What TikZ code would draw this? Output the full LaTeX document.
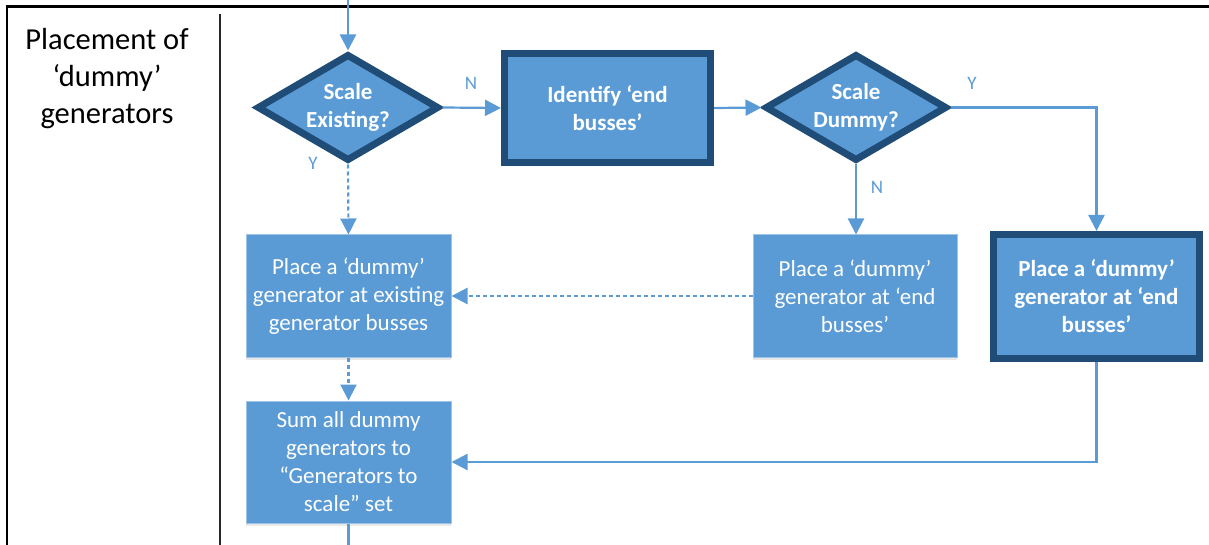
\documentclass[tikz,border=0pt]{standalone}
\usepackage{fontspec}
\setmainfont{Carlito}
\usetikzlibrary{arrows.meta,shapes.geometric,shadows}

\definecolor{boxblue}{HTML}{5B9BD5}
\definecolor{edgedark}{HTML}{1F4D78}
\definecolor{edgelight}{HTML}{9DC3E6}

\tikzset{
  boxtext/.style={text=white, align=center, font=\fontsize{23}{28}\selectfont},
  lightbox/.style={rectangle, boxtext, fill=boxblue, draw=edgelight, line width=1pt,
    inner sep=0pt, minimum width=205pt, minimum height=122pt,
    drop shadow={shadow xshift=0pt, shadow yshift=-3pt, opacity=0.18}},
  boldbox/.style={rectangle, boxtext, font=\fontsize{23}{28}\selectfont\bfseries,
    fill=boxblue, draw=edgedark, line width=7pt, inner sep=0pt, minimum width=206pt,
    drop shadow={shadow xshift=0pt, shadow yshift=-3pt, opacity=0.18}},
  decision/.style={diamond, fill=boxblue, draw=edgedark, line width=7pt,
    inner sep=0pt, minimum width=182pt, minimum height=107pt, miter limit=10},
  dlabel/.style={boxtext, font=\fontsize{23}{28}\selectfont\bfseries},
  flow/.style={draw=boxblue, line width=2.2pt, -{Triangle[width=16pt,length=16pt]}},
  flowdot/.style={flow, dash pattern=on 4pt off 3pt},
  plainline/.style={draw=boxblue, line width=2.2pt},
  branch/.style={text=boxblue, font=\fontsize{19}{22}\selectfont},
}

\begin{document}
\begin{tikzpicture}[x=1pt, y=-1pt]
  \useasboundingbox (0,0) rectangle (1209,545);

  % frame and lane divider
  \draw[line width=2.5pt, black] (1209,6.5) -- (7,6.5) -- (7,545);
  \draw[line width=1.3pt, black!85] (220,14) -- (220,545);

  % lane title
  \node (title) [align=center, font=\fontsize{30.5}{37}\selectfont] at (107,79)
    {Placement of\\‘dummy’\\generators};

  % decisions
  \node (d1) [decision] at (348,107.5) {};
  \node (d1t) [dlabel] at (d1.center) {Scale\\Existing?};
  \node (d2) [decision] at (856,107.5) {};
  \node (d2t) [dlabel] at (d2.center) {Scale\\Dummy?};

  % process boxes
  \node (id) [boldbox, minimum height=109pt] at (607.5,108) {Identify ‘end\\busses’};
  \node (b1) [lightbox] at (348.5,296) {Place a ‘dummy’\\generator at existing\\generator busses};
  \node (mb) [lightbox, minimum width=204pt] at (855,296) {Place a ‘dummy’\\generator at ‘end\\busses’};
  \node (rb) [boldbox, minimum height=124pt] at (1096.5,296.5) {Place a ‘dummy’\\generator at ‘end\\busses’};
  \node (b2) [lightbox] at (348.5,462) {Sum all dummy\\generators to\\“Generators to\\scale” set};

  % loose ends of the lane
  \coordinate (entry) at (348,0);
  \coordinate (exit) at (348.5,545);

  % connectors
  \draw[flow] (entry) -- (d1.north);
  \draw[flow] (d1.east) -- (id.west);
  \draw[flow] (id.east) -- (d2.west);
  \draw[flowdot] (d1.south) -- (b1.north);
  \draw[flow] (d2.south) -- (mb.north -| d2.south);
  \draw[flow] (d2.east) -| (rb.north);
  \draw[flowdot] (mb.west) -- (b1.east);
  \draw[flowdot] (b1.south) -- (b2.north);
  \draw[flow] (rb.south) |- (b2.east);
  \draw[plainline] (b2.south) -- (exit);

  % branch labels
  \node (ln1) [branch] at (471,83) {N};
  \node (ly1) [branch] at (313,163) {Y};
  \node (ly2) [branch] at (972,83) {Y};
  \node (ln2) [branch] at (877,187) {N};
\end{tikzpicture}
\end{document}
